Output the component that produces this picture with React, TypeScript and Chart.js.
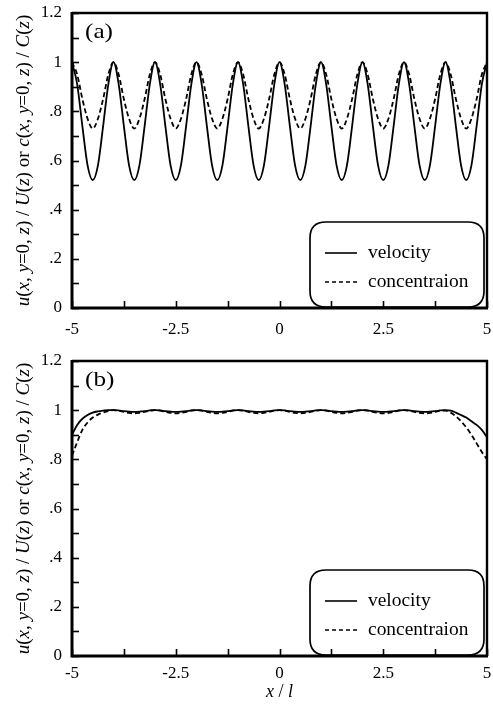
import React, { useEffect, useRef } from 'react';
import { Chart, registerables } from 'chart.js';

Chart.register(...registerables);

// sampling positions x / l
const X = [
  -5, -4.875, -4.75, -4.625, -4.5, -4.375, -4.25, -4.125,
  -4, -3.875, -3.75, -3.625, -3.5, -3.375, -3.25, -3.125,
  -3, -2.875, -2.75, -2.625, -2.5, -2.375, -2.25, -2.125,
  -2, -1.875, -1.75, -1.625, -1.5, -1.375, -1.25, -1.125,
  -1, -0.875, -0.75, -0.625, -0.5, -0.375, -0.25, -0.125,
  0, 0.125, 0.25, 0.375, 0.5, 0.625, 0.75, 0.875,
  1, 1.125, 1.25, 1.375, 1.5, 1.625, 1.75, 1.875,
  2, 2.125, 2.25, 2.375, 2.5, 2.625, 2.75, 2.875,
  3, 3.125, 3.25, 3.375, 3.5, 3.625, 3.75, 3.875,
  4, 4.125, 4.25, 4.375, 4.5, 4.625, 4.75, 4.875,
  5,
];

// panel (a)
const VELOCITY_A = [
  1.0, 0.91, 0.74, 0.58, 0.52, 0.58, 0.74, 0.91,
  1.0, 0.91, 0.74, 0.58, 0.52, 0.58, 0.74, 0.91,
  1.0, 0.91, 0.74, 0.58, 0.52, 0.58, 0.74, 0.91,
  1.0, 0.91, 0.74, 0.58, 0.52, 0.58, 0.74, 0.91,
  1.0, 0.91, 0.74, 0.58, 0.52, 0.58, 0.74, 0.91,
  1.0, 0.91, 0.74, 0.58, 0.52, 0.58, 0.74, 0.91,
  1.0, 0.91, 0.74, 0.58, 0.52, 0.58, 0.74, 0.91,
  1.0, 0.91, 0.74, 0.58, 0.52, 0.58, 0.74, 0.91,
  1.0, 0.91, 0.74, 0.58, 0.52, 0.58, 0.74, 0.91,
  1.0, 0.91, 0.74, 0.58, 0.52, 0.58, 0.74, 0.91,
  1.0,
];
const CONCENTRATION_A = [
  1.0, 0.95, 0.85, 0.77, 0.73, 0.77, 0.85, 0.95,
  1.0, 0.95, 0.85, 0.77, 0.73, 0.77, 0.85, 0.95,
  1.0, 0.95, 0.85, 0.77, 0.73, 0.77, 0.85, 0.95,
  1.0, 0.95, 0.85, 0.77, 0.73, 0.77, 0.85, 0.95,
  1.0, 0.95, 0.85, 0.77, 0.73, 0.77, 0.85, 0.95,
  1.0, 0.95, 0.85, 0.77, 0.73, 0.77, 0.85, 0.95,
  1.0, 0.95, 0.85, 0.77, 0.73, 0.77, 0.85, 0.95,
  1.0, 0.95, 0.85, 0.77, 0.73, 0.77, 0.85, 0.95,
  1.0, 0.95, 0.85, 0.77, 0.73, 0.77, 0.85, 0.95,
  1.0, 0.95, 0.85, 0.77, 0.73, 0.77, 0.85, 0.95,
  1.0,
];

// panel (b)
const VELOCITY_B = [
  0.9, 0.94, 0.965, 0.98, 0.99, 0.995, 0.998, 1.0,
  1.0, 0.999, 0.996, 0.994, 0.993, 0.994, 0.996, 0.999,
  1.0, 0.999, 0.996, 0.994, 0.993, 0.994, 0.996, 0.999,
  1.0, 0.999, 0.996, 0.994, 0.993, 0.994, 0.996, 0.999,
  1.0, 0.999, 0.996, 0.994, 0.993, 0.994, 0.996, 0.999,
  1.0, 0.999, 0.996, 0.994, 0.993, 0.994, 0.996, 0.999,
  1.0, 0.999, 0.996, 0.994, 0.993, 0.994, 0.996, 0.999,
  1.0, 0.999, 0.996, 0.994, 0.993, 0.994, 0.996, 0.999,
  1.0, 0.999, 0.996, 0.994, 0.993, 0.994, 0.996, 0.999,
  1.0, 0.998, 0.99, 0.98, 0.97, 0.955, 0.94, 0.92,
  0.89,
];
const CONCENTRATION_B = [
  0.815, 0.87, 0.92, 0.95, 0.97, 0.982, 0.99, 0.996,
  1.0, 0.998, 0.993, 0.989, 0.987, 0.989, 0.993, 0.998,
  1.0, 0.998, 0.993, 0.989, 0.987, 0.989, 0.993, 0.998,
  1.0, 0.998, 0.993, 0.989, 0.987, 0.989, 0.993, 0.998,
  1.0, 0.998, 0.993, 0.989, 0.987, 0.989, 0.993, 0.998,
  1.0, 0.998, 0.993, 0.989, 0.987, 0.989, 0.993, 0.998,
  1.0, 0.998, 0.993, 0.989, 0.987, 0.989, 0.993, 0.998,
  1.0, 0.998, 0.993, 0.989, 0.987, 0.989, 0.993, 0.998,
  1.0, 0.998, 0.993, 0.989, 0.987, 0.989, 0.993, 0.998,
  0.998, 0.99, 0.975, 0.955, 0.93, 0.9, 0.865, 0.83,
  0.8,
];

const SERIES_NAMES = ['velocity', 'concentraion'];
const PANEL_LABELS = ['(a)', '(b)'];

const X_MIN = -5, X_MAX = 5, X_STEP = 1.25;
const Y_MIN = 0, Y_MAX = 1.2, Y_STEP = 0.1;

type Seg = [string, boolean];
const Y_TITLE: Seg[] = [
  ['u', true], ['(', false], ['x', true], [', ', false], ['y', true], ['=0, ', false], ['z', true],
  [') / ', false], ['U', true], ['(', false], ['z', true], [') or ', false],
  ['c', true], ['(', false], ['x', true], [', ', false], ['y', true], ['=0, ', false], ['z', true],
  [') / ', false], ['C', true], ['(', false], ['z', true], [')', false],
];
const X_TITLE: Seg[] = [['x', true], [' / ', false], ['l', true]];

const SERIF = '"Liberation Serif", "Times New Roman", serif';

function drawSegs(ctx: CanvasRenderingContext2D, segs: Seg[], size: number, cx: number, cy: number, rotate: boolean) {
  ctx.save();
  ctx.translate(cx, cy);
  if (rotate) ctx.rotate(-Math.PI / 2);
  const fn = `${size}px ${SERIF}`;
  const fi = `italic ${size}px ${SERIF}`;
  let total = 0;
  for (const [t, it] of segs) {
    ctx.font = it ? fi : fn;
    total += ctx.measureText(t).width;
  }
  let x = -total / 2;
  ctx.textBaseline = 'middle';
  ctx.textAlign = 'left';
  ctx.fillStyle = '#000';
  for (const [t, it] of segs) {
    ctx.font = it ? fi : fn;
    ctx.fillText(t, x, 0);
    x += ctx.measureText(t).width;
  }
  ctx.restore();
}

function wideText(ctx: CanvasRenderingContext2D, text: string, size: number, sx: number, x: number, y: number) {
  ctx.save();
  ctx.translate(x, y);
  ctx.scale(sx, 1);
  ctx.font = `${size}px ${SERIF}`;
  ctx.fillStyle = '#000';
  ctx.textBaseline = 'middle';
  ctx.textAlign = 'left';
  ctx.fillText(text, 0, 0);
  ctx.restore();
}

const framePlugin = {
  id: 'frame',
  afterDraw(chart: any, _args: any, opts: any) {
    const { ctx, chartArea: a, scales } = chart;
    const xs = scales.x, ys = scales.y;
    ctx.save();
    ctx.strokeStyle = '#000';
    ctx.lineCap = 'butt';

    // legend box
    const bx0 = a.left + 238, bx1 = a.right - 3;
    const by0 = a.bottom - 86, by1 = a.bottom - 1;
    const r = 16;
    ctx.beginPath();
    ctx.moveTo(bx0 + r, by0);
    ctx.lineTo(bx1 - r, by0);
    ctx.quadraticCurveTo(bx1, by0, bx1, by0 + r);
    ctx.lineTo(bx1, by1 - r);
    ctx.quadraticCurveTo(bx1, by1, bx1 - r, by1);
    ctx.lineTo(bx0 + r, by1);
    ctx.quadraticCurveTo(bx0, by1, bx0, by1 - r);
    ctx.lineTo(bx0, by0 + r);
    ctx.quadraticCurveTo(bx0, by0, bx0 + r, by0);
    ctx.closePath();
    ctx.fillStyle = '#fff';
    ctx.fill();
    ctx.lineWidth = 1.7;
    ctx.stroke();

    const rows = [a.bottom - 55, a.bottom - 26];
    const lx0 = a.left + 253, lx1 = a.left + 285, tx = a.left + 296;
    ctx.lineWidth = 1.6;
    rows.forEach((yy: number, i: number) => {
      ctx.setLineDash(i === 1 ? [4, 3] : []);
      ctx.beginPath();
      ctx.moveTo(lx0, yy);
      ctx.lineTo(lx1, yy);
      ctx.stroke();
      ctx.setLineDash([]);
      wideText(ctx, SERIES_NAMES[i], 18, 1.08, tx, yy);
    });

    // inward ticks
    ctx.lineWidth = 1.6;
    ys.ticks.forEach((t: any) => {
      const p = Math.round(ys.getPixelForValue(t.value)) + 0.5;
      ctx.beginPath();
      ctx.moveTo(a.left, p);
      ctx.lineTo(a.left + 7, p);
      ctx.stroke();
    });
    xs.ticks.forEach((t: any) => {
      const p = Math.round(xs.getPixelForValue(t.value)) + 0.5;
      ctx.beginPath();
      ctx.moveTo(p, a.bottom);
      ctx.lineTo(p, a.bottom - 7);
      ctx.stroke();
    });

    // frame
    ctx.lineWidth = 2.4;
    ctx.beginPath();
    ctx.moveTo(a.left, a.top);
    ctx.lineTo(a.right, a.top);
    ctx.lineTo(a.right, a.bottom);
    ctx.stroke();
    ctx.lineWidth = 3;
    ctx.beginPath();
    ctx.moveTo(a.left, a.top - 1);
    ctx.lineTo(a.left, a.bottom);
    ctx.lineTo(a.right + 1, a.bottom);
    ctx.stroke();

    // panel label
    wideText(ctx, opts.label, 21, 1.2, a.left + 13, a.top + 19);

    // titles
    drawSegs(ctx, Y_TITLE, 19, 24, (a.top + a.bottom) / 2, true);
    if (opts.xTitle) drawSegs(ctx, X_TITLE, 18, (a.left + a.right) / 2, a.bottom + 36, false);
    ctx.restore();
  },
};

function fmtY(v: number) {
  const r = Math.round(v * 10);
  if (r % 2 !== 0) return '';
  if (r === 0) return '0';
  if (r === 10) return '1';
  if (r === 12) return '1.2';
  return '.' + r;
}
function fmtX(v: number) {
  const r = Math.round(v * 100);
  if (r % 250 !== 0) return '';
  return String(r / 100);
}

function makeConfig(vel: number[], conc: number[], label: string, xTitle: boolean, padTop: number, xHeight: number, xPad: number) {
  return {
    type: 'line' as const,
    data: {
      datasets: [
        {
          label: SERIES_NAMES[0],
          data: X.map((x, i) => ({ x, y: vel[i] })),
          borderColor: '#000',
          borderWidth: 1.8,
          pointRadius: 0,
          cubicInterpolationMode: 'monotone' as const,
        },
        {
          label: SERIES_NAMES[1],
          data: X.map((x, i) => ({ x, y: conc[i] })),
          borderColor: '#000',
          borderWidth: 1.8,
          borderDash: [5, 3],
          pointRadius: 0,
          cubicInterpolationMode: 'monotone' as const,
        },
      ],
    },
    options: {
      responsive: false,
      animation: false as const,
      layout: { padding: { top: padTop, right: 6, left: 0, bottom: 0 } },
      plugins: {
        legend: { display: false },
        tooltip: { enabled: false },
        frame: { label, xTitle },
      },
      scales: {
        x: {
          type: 'linear' as const,
          min: X_MIN,
          max: X_MAX,
          grid: { display: false, drawTicks: false },
          border: { display: false },
          ticks: {
            stepSize: X_STEP,
            autoSkip: false,
            maxRotation: 0,
            padding: xPad,
            color: '#000',
            font: { family: SERIF, size: 17 },
            callback: (v: any) => fmtX(Number(v)),
          },
          afterFit: (s: any) => { s.height = xHeight; s.paddingLeft = 0; s.paddingRight = 0; },
        },
        y: {
          min: Y_MIN,
          max: Y_MAX,
          grid: { display: false, drawTicks: false },
          border: { display: false },
          ticks: {
            stepSize: Y_STEP,
            autoSkip: false,
            padding: 10,
            color: '#000',
            font: { family: SERIF, size: 17 },
            callback: (v: any) => fmtY(Number(v)),
          },
          afterFit: (s: any) => { s.width = 72; s.paddingTop = 0; s.paddingBottom = 0; },
        },
      },
    },
    plugins: [framePlugin],
  };
}

function Panel(props: { vel: number[]; conc: number[]; label: string; xTitle: boolean; height: number; padTop: number; xHeight: number; xPad: number; top: number }) {
  const ref = useRef<HTMLCanvasElement>(null);
  useEffect(() => {
    const chart = new Chart(ref.current as HTMLCanvasElement, makeConfig(props.vel, props.conc, props.label, props.xTitle, props.padTop, props.xHeight, props.xPad) as any);
    return () => chart.destroy();
  }, []);
  return (
    <div style={{ position: 'absolute', left: 0, top: props.top, width: 493, height: props.height }}>
      <canvas ref={ref} width={493} height={props.height} style={{ display: 'block' }} />
    </div>
  );
}

export default function App() {
  return (
    <div style={{ position: 'absolute', left: 0, top: 0, width: 493, height: 704, background: '#fff' }}>
      <Panel vel={VELOCITY_A} conc={CONCENTRATION_A} label={PANEL_LABELS[0]} xTitle={false} height={345} padTop={13} xHeight={37} xPad={11} top={0} />
      <Panel vel={VELOCITY_B} conc={CONCENTRATION_B} label={PANEL_LABELS[1]} xTitle={true} height={359} padTop={16} xHeight={48} xPad={7} top={345} />
    </div>
  );
}
